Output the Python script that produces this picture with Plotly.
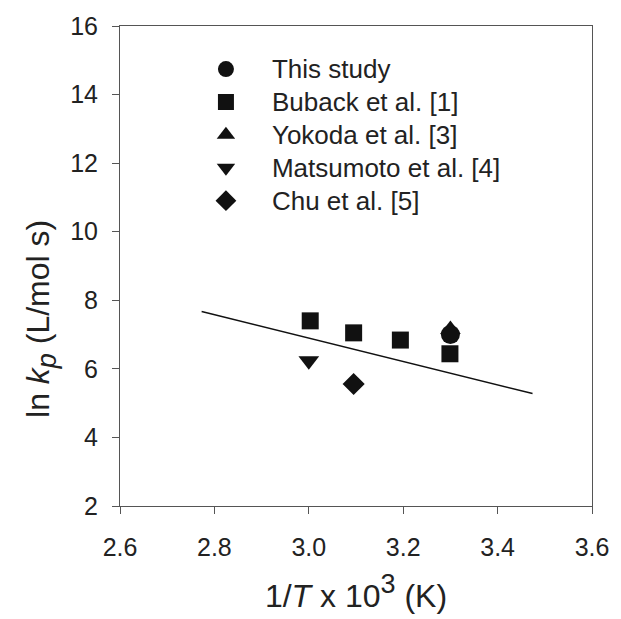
import plotly.graph_objects as go

# Data
this_study_x = [3.30]
this_study_y = [7.00]
buback_x = [3.003, 3.095, 3.194, 3.299]
buback_y = [7.40, 7.05, 6.84, 6.44]
yokoda_x = [3.30]
yokoda_y = [7.15]
matsumoto_x = [3.00]
matsumoto_y = [6.24]
chu_x = [3.095]
chu_y = [5.56]
fit_x = [2.773, 3.474]
fit_y = [7.67, 5.28]

x_ticks = [2.6, 2.8, 3.0, 3.2, 3.4, 3.6]
x_tick_text = ["2.6", "2.8", "3.0", "3.2", "3.4", "3.6"]
y_ticks = [2, 4, 6, 8, 10, 12, 14, 16]

MC = "#111111"
AX = "#555555"
fig = go.Figure()
fig.add_trace(go.Scatter(x=fit_x, y=fit_y, mode="lines", line=dict(color="#111111", width=1.5),
                         showlegend=False, hoverinfo="skip"))
series = [
    ("Buback et al. [1]", buback_x, buback_y, "square", 17),
    ("Yokoda et al. [3]", yokoda_x, yokoda_y, "triangle-up", 18),
    ("This study", this_study_x, this_study_y, "circle", 19),
    ("Matsumoto et al. [4]", matsumoto_x, matsumoto_y, "triangle-down", 18),
    ("Chu et al. [5]", chu_x, chu_y, "diamond", 17),
]
order = {"This study": 1, "Buback et al. [1]": 2, "Yokoda et al. [3]": 3,
         "Matsumoto et al. [4]": 4, "Chu et al. [5]": 5}
for name, xs, ys, sym, sz in series:
    fig.add_trace(go.Scatter(x=xs, y=ys, mode="markers",
                             name="<span style='font-size:26px'>" + name + "</span>",
                             legendrank=order[name],
                             marker=dict(symbol=sym, size=sz, color=MC, line=dict(width=0))))

fig.update_layout(
    width=621, height=619,
    margin=dict(l=120, r=21, t=25, b=112),
    paper_bgcolor="white", plot_bgcolor="white",
    font=dict(family="Liberation Sans, Arial, sans-serif", color="#222222", size=25),
    legend=dict(x=0.127, y=0.955, xanchor="left", yanchor="top",
                font=dict(size=23), itemwidth=82, bgcolor="rgba(0,0,0,0)",
                traceorder="normal"),
    xaxis=dict(range=[2.6, 3.6], tickvals=x_ticks, ticktext=x_tick_text,
               showgrid=False, zeroline=False, showline=True, mirror=True,
               linecolor=AX, linewidth=1, ticks="outside", ticklen=7,
               tickcolor=AX, tickfont=dict(size=25), ticklabelstandoff=12,
               title=dict(text="1/<i>T</i> x 10<sup><span style='font-size:27px'>3</span></sup> (K)",
                          font=dict(size=32), standoff=24)),
    yaxis=dict(range=[2, 16], tickvals=y_ticks,
               showgrid=False, zeroline=False, showline=True, mirror=True,
               linecolor=AX, linewidth=1, ticks="outside", ticklen=7,
               tickcolor=AX, tickfont=dict(size=25), ticklabelstandoff=9),
    annotations=[dict(
        text="ln <i>k</i><sub><span style='font-size:27px'><i>p</i></span></sub> (L/mol s)",
        xref="paper", yref="paper", x=-0.167, y=0.39, xanchor="center", yanchor="middle",
        textangle=-90, showarrow=False, font=dict(size=32, color="#222222"))],
)
fig.write_html("out.html", config={"displayModeBar": False},
               post_script="document.body.style.margin='0px';document.body.style.overflow='hidden';")
